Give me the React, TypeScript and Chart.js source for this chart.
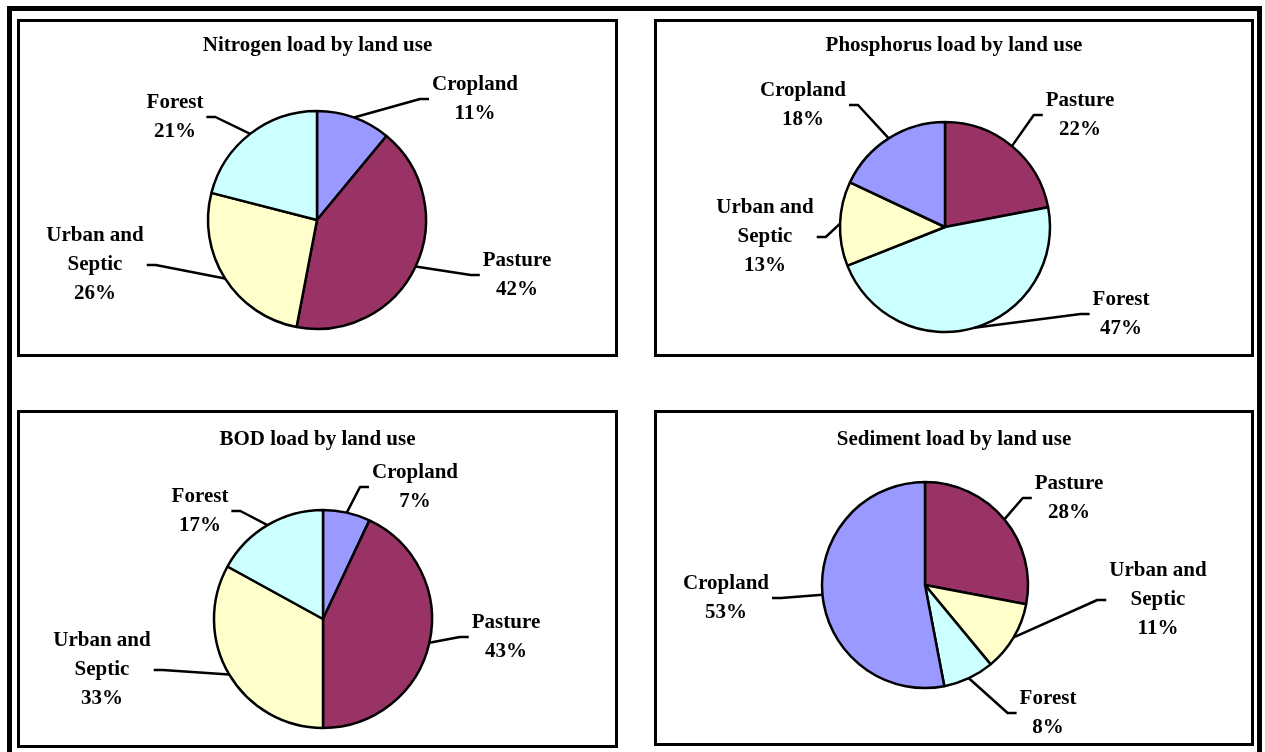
import React, { useEffect, useRef } from 'react';
import { Chart, registerables } from 'chart.js';

Chart.register(...registerables);

// ---- data ----
const categoryNames = ['Cropland', 'Pasture', 'Urban and Septic', 'Forest'];
const categoryLines: Record<string, string[]> = {
  'Cropland': ['Cropland'],
  'Pasture': ['Pasture'],
  'Urban and Septic': ['Urban and', 'Septic'],
  'Forest': ['Forest'],
};
const categoryColors: Record<string, string> = {
  'Cropland': '#9999FF',
  'Pasture': '#993366',
  'Urban and Septic': '#FFFFCC',
  'Forest': '#CCFFFF',
};

const nitrogenCategories = ['Cropland', 'Pasture', 'Urban and Septic', 'Forest'];
const nitrogenValues = [11, 42, 26, 21];

const phosphorusCategories = ['Pasture', 'Forest', 'Urban and Septic', 'Cropland'];
const phosphorusValues = [22, 47, 13, 18];

const bodCategories = ['Cropland', 'Pasture', 'Urban and Septic', 'Forest'];
const bodValues = [7, 43, 33, 17];

const sedimentCategories = ['Pasture', 'Urban and Septic', 'Forest', 'Cropland'];
const sedimentValues = [28, 11, 8, 53];

// ---- layout (not data) ----
type Panel = {
  title: string;
  categories: string[];
  values: number[];
  box: { left: number; top: number; width: number; height: number };
  titleY: number;
  center: [number, number];
  radius: number;
  labelOffsets: [number, number][];
};

const panels: Panel[] = [
  {
    title: 'Nitrogen load by land use',
    categories: nitrogenCategories,
    values: nitrogenValues,
    box: { left: 17, top: 19, width: 601, height: 338 },
    titleY: 24,
    center: [297, 198],
    radius: 109,
    labelOffsets: [[158, -121], [200, 55], [-222, 45], [-142, -103]],
  },
  {
    title: 'Phosphorus load by land use',
    categories: phosphorusCategories,
    values: phosphorusValues,
    box: { left: 654, top: 19, width: 600, height: 338 },
    titleY: 24,
    center: [288, 205],
    radius: 105,
    labelOffsets: [[135, -112], [176, 87], [-180, 10], [-142, -122]],
  },
  {
    title: 'BOD load by land use',
    categories: bodCategories,
    values: bodValues,
    box: { left: 17, top: 410, width: 601, height: 338 },
    titleY: 27,
    center: [303, 206],
    radius: 109,
    labelOffsets: [[92, -132], [183, 18], [-221, 51], [-123, -108]],
  },
  {
    title: 'Sediment load by land use',
    categories: sedimentCategories,
    values: sedimentValues,
    box: { left: 654, top: 410, width: 600, height: 336 },
    titleY: 27,
    center: [268, 172],
    radius: 103,
    labelOffsets: [[144, -87], [233, 15], [123, 128], [-199, 13]],
  },
];

const FONT = 'bold 21px "Liberation Serif", "Times New Roman", serif';
const LINE_H = 29;
const BORDER = 3;

const pieLabelsPlugin = {
  id: 'pieLabels',
  afterDraw(chart: any, _args: any, opts: any) {
    const ctx: CanvasRenderingContext2D = chart.ctx;
    const meta = chart.getDatasetMeta(0);
    ctx.save();
    ctx.font = FONT;
    ctx.fillStyle = '#000';
    ctx.strokeStyle = '#000';
    ctx.textAlign = 'center';
    ctx.textBaseline = 'middle';
    ctx.fillText(opts.title, chart.width / 2, opts.titleY);
    const cats: string[] = opts.categories;
    const vals: number[] = chart.data.datasets[0].data;
    meta.data.forEach((arc: any, i: number) => {
      const { x, y, startAngle, endAngle, outerRadius } = arc;
      const mid = (startAngle + endAngle) / 2;
      const ex = x + outerRadius * Math.cos(mid);
      const ey = y + outerRadius * Math.sin(mid);
      const lines = [...categoryLines[cats[i]], vals[i] + '%'];
      const [dx, dy] = opts.offsets[i];
      const cx = x + dx;
      const cy = y + dy;
      const w = Math.max(...lines.map((l) => ctx.measureText(l).width));
      let near: number, far: number;
      if (ex < cx) {
        near = cx - w / 2 - 3;
        far = cx - w / 2 - 12;
      } else {
        near = cx + w / 2 + 3;
        far = cx + w / 2 + 12;
      }
      ctx.lineWidth = 2.5;
      ctx.lineJoin = 'round';
      ctx.beginPath();
      ctx.moveTo(near, cy);
      ctx.lineTo(far, cy);
      ctx.lineTo(ex, ey);
      ctx.stroke();
      const n = lines.length;
      lines.forEach((l, j) => {
        ctx.fillText(l, cx, cy + (j - (n - 1) / 2) * LINE_H);
      });
    });
    ctx.restore();
  },
};

function PiePanel({ panel }: { panel: Panel }) {
  const ref = useRef<HTMLCanvasElement | null>(null);
  const W = panel.box.width - 2 * BORDER;
  const H = panel.box.height - 2 * BORDER;
  useEffect(() => {
    if (!ref.current) return;
    const [cx, cy] = panel.center;
    const chart = new Chart(ref.current, {
      type: 'pie',
      data: {
        labels: panel.categories,
        datasets: [
          {
            data: panel.values,
            backgroundColor: panel.categories.map((c) => categoryColors[c]),
            borderColor: '#000',
            borderWidth: 2.5,
            radius: panel.radius,
          } as any,
        ],
      },
      options: {
        responsive: false,
        animation: false,
        events: [],
        layout: {
          padding: {
            left: Math.max(0, 2 * cx - W),
            right: Math.max(0, W - 2 * cx),
            top: Math.max(0, 2 * cy - H),
            bottom: Math.max(0, H - 2 * cy),
          },
        },
        plugins: {
          legend: { display: false },
          tooltip: { enabled: false },
          title: { display: false },
          pieLabels: {
            title: panel.title,
            titleY: panel.titleY,
            categories: panel.categories,
            offsets: panel.labelOffsets,
          },
        } as any,
      },
      plugins: [pieLabelsPlugin],
    });
    return () => chart.destroy();
  }, [panel, W, H]);
  return (
    <div
      style={{
        position: 'absolute',
        left: panel.box.left,
        top: panel.box.top,
        width: panel.box.width,
        height: panel.box.height,
        boxSizing: 'border-box',
        border: `${BORDER}px solid #000`,
        background: '#fff',
      }}
    >
      <canvas ref={ref} width={W} height={H} style={{ display: 'block', width: W, height: H }} />
    </div>
  );
}

export default function App() {
  return (
    <div
      style={{
        position: 'fixed',
        left: 0,
        top: 0,
        width: 1265,
        height: 752,
        overflow: 'hidden',
        background: '#fff',
      }}
    >
      <div
        style={{
          position: 'absolute',
          left: 7,
          top: 6,
          width: 1255,
          height: 800,
          boxSizing: 'border-box',
          border: '5px solid #000',
        }}
      />
      {panels.map((p) => (
        <PiePanel key={p.title} panel={p} />
      ))}
    </div>
  );
}
